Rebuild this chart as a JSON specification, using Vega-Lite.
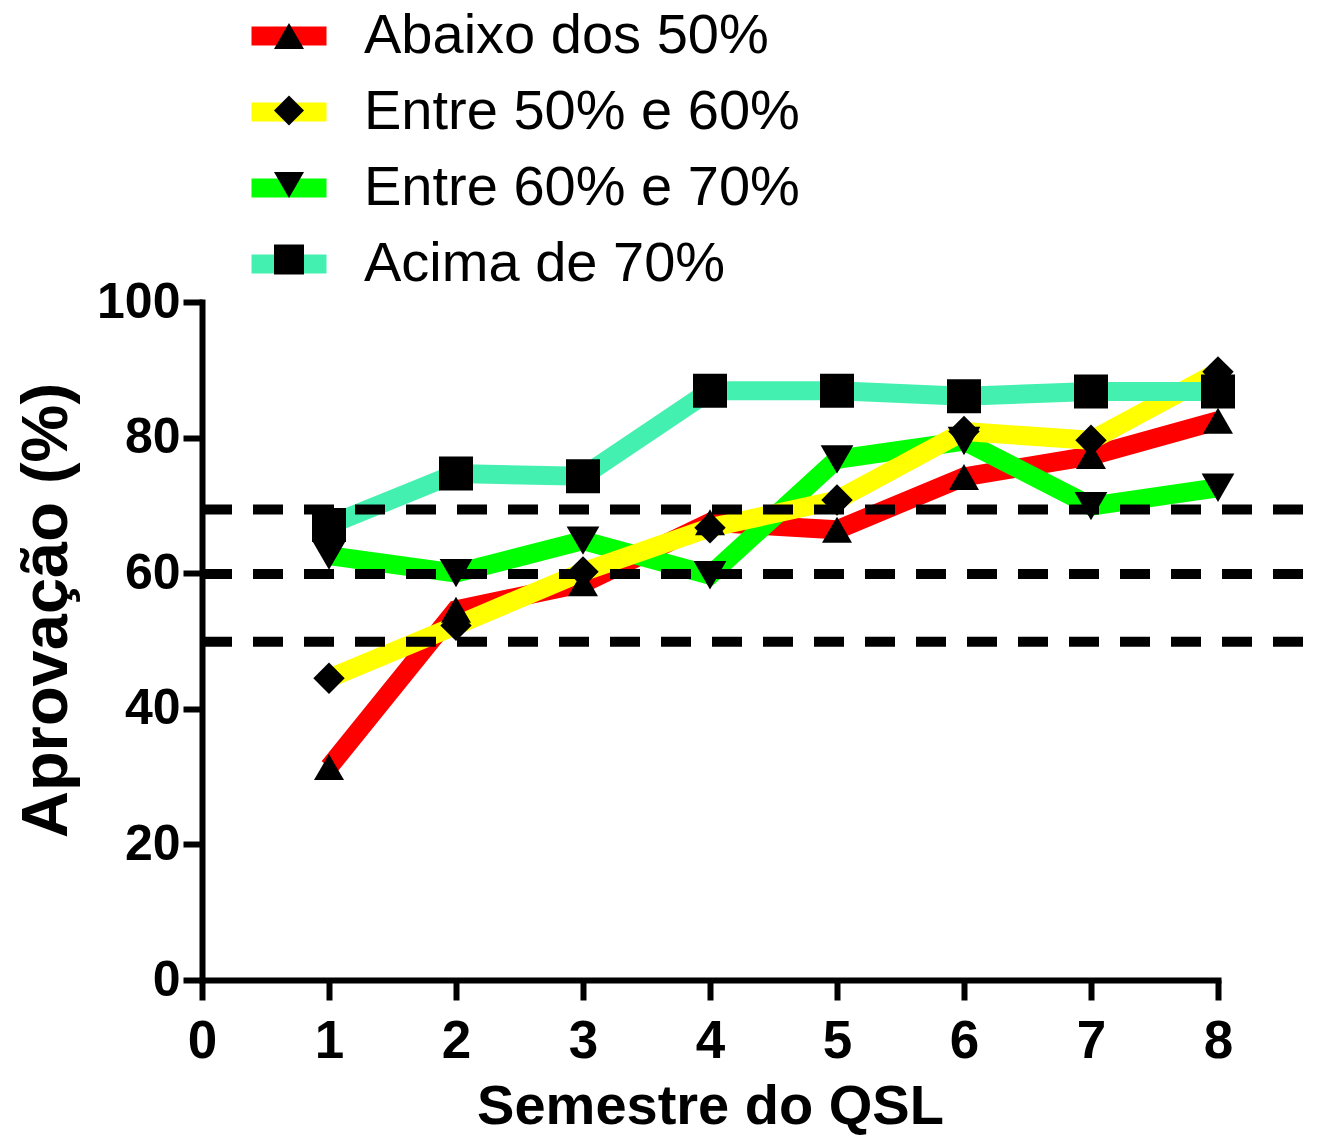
{
  "$schema": "https://vega.github.io/schema/vega-lite/v6.json",
  "width": 1016,
  "height": 678,
  "autosize": "none",
  "padding": {"left": 202, "top": 302, "right": 104, "bottom": 157},
  "background": "white",
  "config": {"view": {"stroke": null}, "font": "Liberation Sans"},
  "datasets": {
    "series": [
      {"serie": "Abaixo dos 50%", "marcador": "Abaixo dos 50%", "semestre": 1, "aprovacao": 31.4},
      {"serie": "Abaixo dos 50%", "marcador": "Abaixo dos 50%", "semestre": 2, "aprovacao": 54.6},
      {"serie": "Abaixo dos 50%", "marcador": "Abaixo dos 50%", "semestre": 3, "aprovacao": 58.5},
      {"serie": "Abaixo dos 50%", "marcador": "Abaixo dos 50%", "semestre": 4, "aprovacao": 67.5},
      {"serie": "Abaixo dos 50%", "marcador": "Abaixo dos 50%", "semestre": 5, "aprovacao": 66.4},
      {"serie": "Abaixo dos 50%", "marcador": "Abaixo dos 50%", "semestre": 6, "aprovacao": 74.2},
      {"serie": "Abaixo dos 50%", "marcador": "Abaixo dos 50%", "semestre": 7, "aprovacao": 77.3},
      {"serie": "Abaixo dos 50%", "marcador": "Abaixo dos 50%", "semestre": 8, "aprovacao": 82.5},
      {"serie": "Entre 60% e 70%", "marcador": "Entre 60% e 70%", "semestre": 1, "aprovacao": 62.6},
      {"serie": "Entre 60% e 70%", "marcador": "Entre 60% e 70%", "semestre": 2, "aprovacao": 60.0},
      {"serie": "Entre 60% e 70%", "marcador": "Entre 60% e 70%", "semestre": 3, "aprovacao": 64.8},
      {"serie": "Entre 60% e 70%", "marcador": "Entre 60% e 70%", "semestre": 4, "aprovacao": 59.7},
      {"serie": "Entre 60% e 70%", "marcador": "Entre 60% e 70%", "semestre": 5, "aprovacao": 76.8},
      {"serie": "Entre 60% e 70%", "marcador": "Entre 60% e 70%", "semestre": 6, "aprovacao": 79.5},
      {"serie": "Entre 60% e 70%", "marcador": "Entre 60% e 70%", "semestre": 7, "aprovacao": 69.9},
      {"serie": "Entre 60% e 70%", "marcador": "Entre 60% e 70%", "semestre": 8, "aprovacao": 72.6},
      {"serie": "Entre 50% e 60%", "marcador": "Entre 50% e 60%", "semestre": 1, "aprovacao": 44.5},
      {"serie": "Entre 50% e 60%", "marcador": "Entre 50% e 60%", "semestre": 2, "aprovacao": 52.3},
      {"serie": "Entre 50% e 60%", "marcador": "Entre 50% e 60%", "semestre": 3, "aprovacao": 60.2},
      {"serie": "Entre 50% e 60%", "marcador": "Entre 50% e 60%", "semestre": 4, "aprovacao": 66.7},
      {"serie": "Entre 50% e 60%", "marcador": "Entre 50% e 60%", "semestre": 5, "aprovacao": 70.8},
      {"serie": "Entre 50% e 60%", "marcador": "Entre 50% e 60%", "semestre": 6, "aprovacao": 80.9},
      {"serie": "Entre 50% e 60%", "marcador": "Entre 50% e 60%", "semestre": 7, "aprovacao": 79.6},
      {"serie": "Entre 50% e 60%", "marcador": "Entre 50% e 60%", "semestre": 8, "aprovacao": 89.7},
      {"serie": "Acima de 70%", "marcador": "Acima de 70%", "semestre": 1, "aprovacao": 67.1},
      {"serie": "Acima de 70%", "marcador": "Acima de 70%", "semestre": 2, "aprovacao": 74.7},
      {"serie": "Acima de 70%", "marcador": "Acima de 70%", "semestre": 3, "aprovacao": 74.3},
      {"serie": "Acima de 70%", "marcador": "Acima de 70%", "semestre": 4, "aprovacao": 86.9},
      {"serie": "Acima de 70%", "marcador": "Acima de 70%", "semestre": 5, "aprovacao": 86.9},
      {"serie": "Acima de 70%", "marcador": "Acima de 70%", "semestre": 6, "aprovacao": 86.1},
      {"serie": "Acima de 70%", "marcador": "Acima de 70%", "semestre": 7, "aprovacao": 86.8},
      {"serie": "Acima de 70%", "marcador": "Acima de 70%", "semestre": 8, "aprovacao": 86.8}
    ],
    "limiares": [
      {"limiar": 69.4, "inicio": 0, "fim": 8.69},
      {"limiar": 59.9, "inicio": 0, "fim": 8.69},
      {"limiar": 49.9, "inicio": 0, "fim": 8.69}
    ]
  },
  "layer": [
    {
      "data": {"name": "series"},
      "mark": {"type": "line", "strokeWidth": 19, "strokeJoin": "miter", "clip": false},
      "encoding": {
        "x": {
          "field": "semestre", "type": "quantitative",
          "scale": {"domain": [0, 8], "nice": false, "zero": false},
          "axis": {
            "values": [0, 1, 2, 3, 4, 5, 6, 7, 8],
            "format": "d",
            "grid": false,
            "title": "Semestre do QSL",
            "titleFont": "Liberation Sans", "titleFontSize": 56, "titleFontWeight": "bold", "titleColor": "black",
            "titlePadding": 11,
            "labelFont": "Liberation Sans", "labelFontSize": 53, "labelFontWeight": "bold", "labelColor": "black",
            "labelPadding": 15, "labelFlush": false,
            "domainColor": "black", "domainWidth": 6, "domainCap": "square",
            "tickColor": "black", "tickWidth": 6, "tickSize": 20
          }
        },
        "y": {
          "field": "aprovacao", "type": "quantitative",
          "scale": {"domain": [0, 100], "nice": false},
          "axis": {
            "values": [0, 20, 40, 60, 80, 100],
            "grid": false,
            "title": "Aprovação (%)",
            "titleFont": "Liberation Sans", "titleFontSize": 65, "titleFontWeight": "bold", "titleColor": "black",
            "titleX": -122, "titleY": 308, "titleBaseline": "bottom", "titleAngle": 270,
            "labelFont": "Liberation Sans", "labelFontSize": 50, "labelFontWeight": "bold", "labelColor": "black",
            "labelPadding": 3, "labelFlush": false,
            "domainColor": "black", "domainWidth": 6, "domainCap": "square",
            "tickColor": "black", "tickWidth": 6, "tickSize": 19
          }
        },
        "color": {
          "field": "serie", "type": "nominal",
          "scale": {
            "domain": ["Abaixo dos 50%", "Entre 50% e 60%", "Entre 60% e 70%", "Acima de 70%"],
            "range": ["#FF0000", "#FFFF00", "#00FF00", "#44F0B0"]
          },
          "legend": {
            "orient": "none", "legendX": 59, "legendY": -294,
            "title": null, "padding": 0,
            "symbolType": "M-2.5,0H2.5", "symbolSize": 900, "symbolStrokeWidth": 19, "symbolOpacity": 1,
            "labelFont": "Liberation Sans", "labelFontSize": 56, "labelColor": "black",
            "labelOffset": 47, "rowPadding": 0, "labelLimit": 1000
          }
        }
      }
    },
    {
      "data": {"name": "limiares"},
      "mark": {"type": "rule", "color": "black", "strokeWidth": 10, "strokeDash": [30, 21], "clip": false},
      "encoding": {
        "x": {"field": "inicio", "type": "quantitative"},
        "x2": {"field": "fim"},
        "y": {"field": "limiar", "type": "quantitative"}
      }
    },
    {
      "data": {"name": "series"},
      "mark": {"type": "point", "filled": true, "color": "black", "opacity": 1, "clip": false},
      "encoding": {
        "x": {"field": "semestre", "type": "quantitative"},
        "y": {"field": "aprovacao", "type": "quantitative"},
        "shape": {
          "field": "marcador", "type": "nominal",
          "sort": ["Abaixo dos 50%", "Entre 50% e 60%", "Entre 60% e 70%", "Acima de 70%"],
          "scale": {"range": ["triangle-up", "diamond", "triangle-down", "square"]},
          "legend": {
            "orient": "none", "legendX": 59, "legendY": -294,
            "title": null, "padding": 0,
            "symbolSize": 900,
            "symbolFillColor": "black", "symbolStrokeColor": "black", "symbolStrokeWidth": 0, "symbolOpacity": 1,
            "labelExpr": "''",
            "labelFont": "Liberation Sans", "labelFontSize": 56, "labelColor": "white", "labelOpacity": 0,
            "labelOffset": 47, "rowPadding": 18.5, "labelLimit": 1000, "zindex": 2
          }
        },
        "size": {
          "field": "marcador", "type": "nominal",
          "sort": ["Abaixo dos 50%", "Entre 50% e 60%", "Entre 60% e 70%", "Acima de 70%"],
          "scale": {"range": [900, 1156, 900, 784]},
          "legend": null
        }
      }
    }
  ]
}
